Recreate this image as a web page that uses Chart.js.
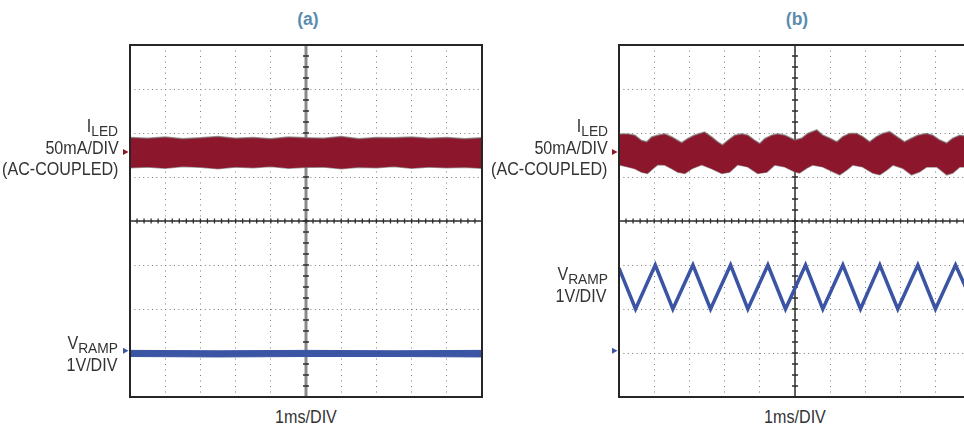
<!DOCTYPE html>
<html>
<head>
<meta charset="utf-8">
<script src="https://cdn.jsdelivr.net/npm/chart.js@4.4.1/dist/chart.umd.min.js"></script>
<style>
html, body { margin: 0; padding: 0; background: #fff; }
body { width: 964px; height: 426px; overflow: hidden; position: relative; }
.box { position: absolute; top: 40px; width: 380px; height: 362px; }
.lbl {
    position: absolute; white-space: nowrap; color: #333;
    font: 17.5px 'Liberation Sans', Arial, sans-serif; line-height: 20px;
    transform: scaleX(0.92); transform-origin: right center;
}
.lbl .sub { font-size: 15px; position: relative; top: 4px; }
.ctr { transform-origin: center center; text-align: center; width: 120px; }
.ttl {
    position: absolute; width: 100px; text-align: center; color: #5a8caf;
    font: bold 17.5px 'Liberation Sans', Arial, sans-serif; line-height: 20px;
}
</style>
</head>
<body>
<div class="box" style="left:110px"><canvas id="chartA"></canvas></div>
<div class="box" style="left:599px"><canvas id="chartB"></canvas></div>

<div class="ttl" style="left:258px; top:8.5px">(a)</div>
<div class="ttl" style="left:747px; top:8.5px">(b)</div>

<!-- (a) 左侧标注 -->
<div class="lbl" style="right:845.7px; top:115.6px">I<span class="sub">LED</span></div>
<div class="lbl" style="right:845.7px; top:138px">50mA/DIV</div>
<div class="lbl" style="right:845.7px; top:159px">(AC-COUPLED)</div>
<div class="lbl" style="right:845.7px; top:333.2px">V<span class="sub">RAMP</span></div>
<div class="lbl" style="right:846.7px; top:354.6px">1V/DIV</div>
<div class="lbl ctr" style="left:246px; top:407.4px">1ms/DIV</div>

<!-- (b) 左侧标注 -->
<div class="lbl" style="right:356.3px; top:115.6px">I<span class="sub">LED</span></div>
<div class="lbl" style="right:356.3px; top:138px">50mA/DIV</div>
<div class="lbl" style="right:356.3px; top:159px">(AC-COUPLED)</div>
<div class="lbl" style="right:356.3px; top:264px">V<span class="sub">RAMP</span></div>
<div class="lbl" style="right:357.3px; top:285.6px">1V/DIV</div>
<div class="lbl ctr" style="left:735.3px; top:407.4px">1ms/DIV</div>

<script>
// 横轴: 时间 (ms, 1ms/DIV), 纵轴: 格 (DIV, 中心为 0)
// 地电平标记
const iledMark = 1.57;
const vrampMark = -2.95;

// (a) ILED 包络
const timeA = [0, 0.5, 1, 1.5, 2, 2.5, 3, 3.5, 4, 4.5, 5, 5.5, 6, 6.5, 7, 7.5, 8, 8.5, 9, 9.5, 10];
const iledTopA = [1.90, 1.88, 1.91, 1.87, 1.89, 1.92, 1.88, 1.90, 1.87, 1.91, 1.89, 1.88, 1.92, 1.87, 1.90, 1.89, 1.91, 1.88, 1.90, 1.87, 1.89];
const iledBottomA = [1.21, 1.23, 1.20, 1.24, 1.22, 1.19, 1.23, 1.21, 1.24, 1.20, 1.22, 1.23, 1.19, 1.22, 1.21, 1.24, 1.20, 1.23, 1.21, 1.22, 1.20];

// (a) VRAMP 包络
const vrampTimeA = [0, 2.5, 5, 7.5, 10];
const vrampTopA = [-2.94, -2.95, -2.94, -2.95, -2.94];
const vrampBottomA = [-3.08, -3.09, -3.08, -3.08, -3.09];

// (b) ILED 上包络
const iledTopTimeB = [0.02, 0.25, 0.45, 0.64, 0.79, 0.93, 1.10, 1.30, 1.50, 1.67, 1.78, 1.95, 2.14, 2.43, 2.63, 2.80, 2.94, 3.09, 3.29, 3.49, 3.66, 3.86, 4.00, 4.14, 4.34, 4.51, 4.71, 4.99, 5.19, 5.36, 5.62, 5.79, 5.99, 6.19, 6.36, 6.55, 6.75, 6.92, 7.12, 7.32, 7.49, 7.69, 7.89, 8.11, 8.31, 8.49, 8.74, 8.91, 9.11, 9.31, 9.48, 9.68, 10.0];
const iledTopB = [1.98, 1.98, 1.95, 1.83, 1.80, 1.91, 1.95, 1.98, 1.91, 1.83, 1.78, 1.87, 1.95, 2.02, 1.91, 1.80, 1.73, 1.83, 1.95, 1.98, 1.95, 1.83, 1.76, 1.87, 1.95, 1.98, 1.95, 1.84, 1.88, 1.99, 2.07, 1.95, 1.88, 1.80, 1.92, 1.99, 1.99, 1.92, 1.80, 1.92, 1.99, 2.03, 1.92, 1.80, 1.88, 1.95, 1.99, 1.95, 1.84, 1.77, 1.88, 1.95, 1.91];

// (b) ILED 下包络
const iledBottomTimeB = [0.02, 0.25, 0.45, 0.64, 0.81, 0.96, 1.10, 1.30, 1.50, 1.67, 1.87, 2.07, 2.35, 2.63, 2.92, 3.14, 3.37, 3.66, 3.94, 4.20, 4.42, 4.71, 4.99, 5.13, 5.33, 5.50, 5.79, 6.08, 6.27, 6.47, 6.64, 6.92, 7.21, 7.41, 7.61, 7.78, 8.06, 8.31, 8.54, 8.74, 9.03, 9.31, 9.48, 9.68, 10.0];
const iledBottomB = [1.27, 1.23, 1.19, 1.11, 1.08, 1.19, 1.28, 1.27, 1.19, 1.11, 1.08, 1.19, 1.28, 1.19, 1.08, 1.11, 1.28, 1.23, 1.08, 1.11, 1.27, 1.23, 1.12, 1.09, 1.20, 1.27, 1.23, 1.12, 1.05, 1.16, 1.27, 1.23, 1.09, 1.05, 1.16, 1.27, 1.20, 1.05, 1.12, 1.23, 1.23, 1.05, 1.09, 1.23, 1.23];

// (b) VRAMP 三角波顶点
const vrampTimeB = [0, 0.47, 1.03, 1.53, 2.10, 2.60, 3.17, 3.66, 4.23, 4.73, 5.30, 5.79, 6.36, 6.86, 7.41, 7.92, 8.49, 8.99, 9.56, 10.13];
const vrampB = [-1.07, -2.0, -1.0, -2.0, -1.0, -2.0, -1.0, -2.0, -1.0, -2.0, -1.0, -2.0, -1.0, -2.0, -1.0, -2.0, -1.0, -2.0, -1.0, -2.0];

const RED = '#8c172d';
const BLUE = '#3b55a4';
const EDGE = 'rgba(120, 108, 110, 0.7)';

function pts(xs, ys) {
    return xs.map((x, i) => ({ x: x, y: ys[i] }));
}

// 示波器网格: 中心十字、小刻度、外框、地电平标记
const scopePlugin = {
    id: 'scope',
    beforeDatasetsDraw(chart, args, opts) {
        const { ctx, chartArea: a, scales: { x, y } } = chart;
        const cx = x.getPixelForValue(5);
        const cy = y.getPixelForValue(0);
        ctx.save();
        ctx.strokeStyle = opts.vColor;
        ctx.lineWidth = opts.vWidth;
        ctx.beginPath();
        ctx.moveTo(cx, a.top);
        ctx.lineTo(cx, a.bottom);
        ctx.stroke();

        ctx.strokeStyle = '#2e2e2e';
        ctx.lineWidth = 1.5;
        ctx.beginPath();
        ctx.moveTo(a.left, cy);
        ctx.lineTo(a.right, cy);
        ctx.stroke();

        ctx.lineWidth = 1.3;
        ctx.beginPath();
        for (let i = 0; i <= 50; i++) {
            const px = x.getPixelForValue(i * 0.2);
            ctx.moveTo(px, cy - 2.5);
            ctx.lineTo(px, cy + 2.5);
        }
        for (let i = 0; i <= 32; i++) {
            const py = y.getPixelForValue(-4 + i * 0.25);
            ctx.moveTo(cx - 3, py);
            ctx.lineTo(cx + 3, py);
        }
        ctx.stroke();
        ctx.restore();
    },
    afterDraw(chart, args, opts) {
        const { ctx, chartArea: a, scales: { y } } = chart;
        ctx.save();
        ctx.strokeStyle = '#262626';
        ctx.lineWidth = 2;
        ctx.strokeRect(a.left, a.top, a.right - a.left, a.bottom - a.top);

        opts.markers.forEach(m => {
            const py = y.getPixelForValue(m.value);
            ctx.fillStyle = m.color;
            ctx.beginPath();
            ctx.moveTo(a.left - 1.5, py);
            ctx.lineTo(a.left - 7, py - 3);
            ctx.lineTo(a.left - 7, py + 3);
            ctx.closePath();
            ctx.fill();
        });
        ctx.restore();
    }
};

function makeOptions(vColor, vWidth) {
    return {
        responsive: true,
        maintainAspectRatio: false,
        animation: false,
        events: [],
        layout: { padding: { left: 20, top: 5, right: 8, bottom: 5 } },
        elements: { point: { radius: 0 }, line: { tension: 0 } },
        plugins: {
            legend: { display: false },
            tooltip: { enabled: false },
            scope: {
                vColor: vColor,
                vWidth: vWidth,
                markers: [
                    { value: iledMark, color: RED },
                    { value: vrampMark, color: BLUE }
                ]
            }
        },
        scales: {
            x: {
                type: 'linear',
                min: 0,
                max: 10,
                ticks: { display: false, stepSize: 1 },
                grid: { color: '#7a7a7a', lineWidth: 1, drawTicks: false, borderDash: [1, 4.5] },
                border: { display: false, dash: [1, 4.5] }
            },
            y: {
                min: -4,
                max: 4,
                ticks: { display: false, stepSize: 1 },
                grid: { color: '#7a7a7a', lineWidth: 1, drawTicks: false, borderDash: [1, 3.4] },
                border: { display: false, dash: [1, 3.4] }
            }
        }
    };
}

new Chart(document.getElementById('chartA').getContext('2d'), {
    type: 'line',
    data: {
        datasets: [
            { data: pts(timeA, iledTopA), borderColor: EDGE, borderWidth: 1.5, backgroundColor: RED, fill: '+1' },
            { data: pts(timeA, iledBottomA), borderColor: EDGE, borderWidth: 1.5, fill: false },
            { data: pts(vrampTimeA, vrampTopA), borderColor: BLUE, borderWidth: 1, backgroundColor: BLUE, fill: '+1' },
            { data: pts(vrampTimeA, vrampBottomA), borderColor: BLUE, borderWidth: 1, fill: false }
        ]
    },
    options: makeOptions('#8a8a8a', 3),
    plugins: [scopePlugin]
});

new Chart(document.getElementById('chartB').getContext('2d'), {
    type: 'line',
    data: {
        datasets: [
            { data: pts(iledTopTimeB, iledTopB), borderColor: EDGE, borderWidth: 1.5, backgroundColor: RED, fill: '+1' },
            { data: pts(iledBottomTimeB, iledBottomB), borderColor: EDGE, borderWidth: 1.5, fill: false },
            { data: pts(vrampTimeB, vrampB), borderColor: BLUE, borderWidth: 3.5, borderJoinStyle: 'miter', fill: false }
        ]
    },
    options: makeOptions('#2e2e2e', 1.5),
    plugins: [scopePlugin]
});
</script>
</body>
</html>
